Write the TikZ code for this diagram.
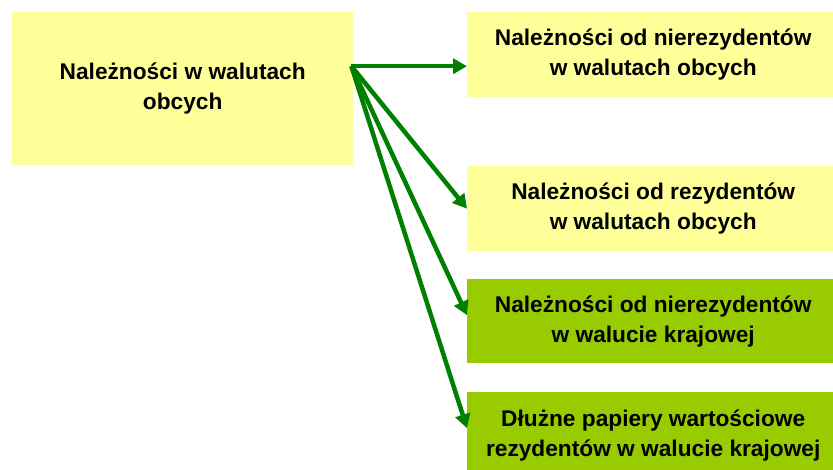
\documentclass[tikz,border=0pt]{standalone}
\usepackage{fontspec}
\setmainfont{Liberation Sans}
\usetikzlibrary{arrows.meta}
\definecolor{boxyellow}{HTML}{FFFF99}
\definecolor{boxgreen}{HTML}{99CC00}
\definecolor{arrowgreen}{HTML}{008000}
\begin{document}
\begin{tikzpicture}[x=1pt,y=-1pt,
  box/.style={fill=#1, draw=none, anchor=north west, align=center, inner sep=0pt,
    font=\fontsize{22.7}{30}\selectfont\bfseries},
  conn/.style={draw=arrowgreen, line width=4.5pt,
    -{Triangle[length=14pt,width=15pt]}}]
\path[use as bounding box] (0,0) rectangle (833,470);
\clip (0,0) rectangle (833,470);
\node[box=boxyellow, minimum width=341pt, minimum height=153pt] (L) at (12,12)
  {Należności w walutach\\obcych};
\node[box=boxyellow, minimum width=372pt, minimum height=85pt] (b1) at (467,12)
  {Należności od nierezydentów\\w walutach obcych};
\node[box=boxyellow, minimum width=372pt, minimum height=85pt] (b2) at (467,166)
  {Należności od rezydentów\\w walutach obcych};
\node[box=boxgreen, minimum width=372pt, minimum height=84pt] (b3) at (467,279)
  {Należności od nierezydentów\\w walucie krajowej};
\node[box=boxgreen, minimum width=372pt, minimum height=86pt] (b4) at (467,392)
  {Dłużne papiery wartościowe\\rezydentów w walucie krajowej};
\coordinate (src) at ([xshift=-2pt,yshift=22.5pt]L.east);
\draw[conn] (src) -- ([yshift=-11.5pt]b1.west);
\draw[conn] (src) -- ([yshift=0pt]b2.west);
\draw[conn] (src) -- ([yshift=6pt]b3.west);
\draw[conn] (src) -- ([yshift=7pt]b4.west);
\end{tikzpicture}
\end{document}
